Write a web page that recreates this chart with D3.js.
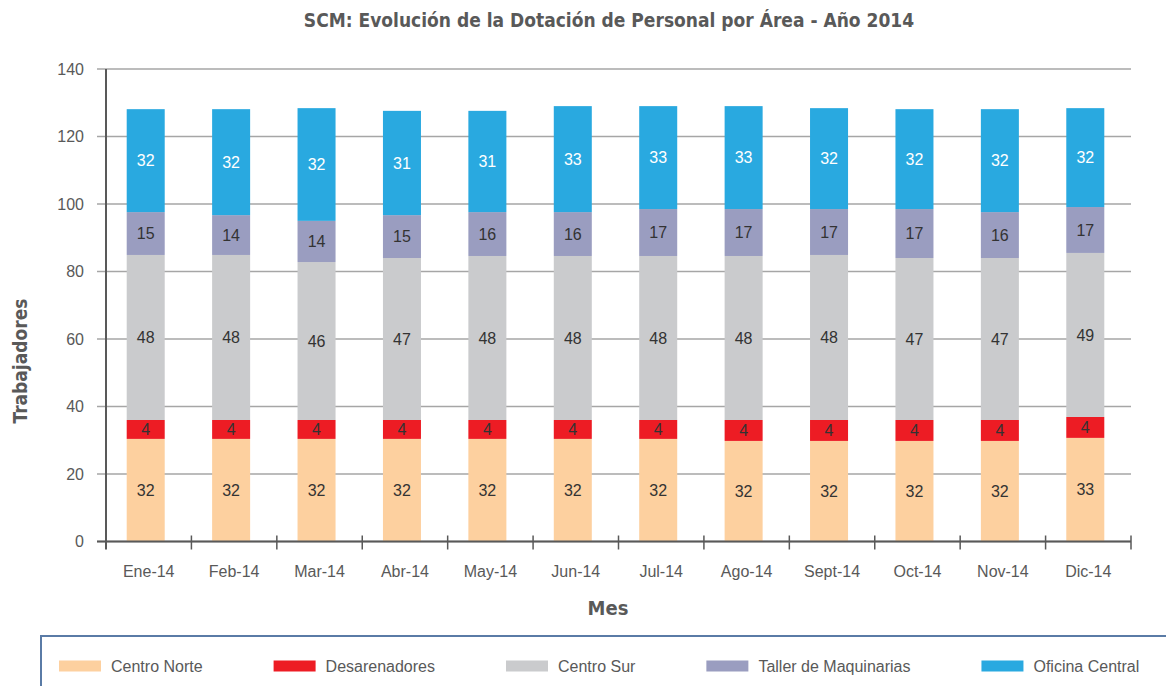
<!DOCTYPE html>
<html lang="es">
<head>
    <meta charset="UTF-8">
    <title>SCM: Dotación de Personal por Área - 2014</title>
    <script src="https://d3js.org/d3.v7.min.js"></script>
    <style>
        body { margin: 0; background: #fff; }
        svg { display: block; }
        .tick-label { font-family: "Liberation Sans", Arial, sans-serif; font-size: 16px; fill: #595959; }
        .bold-label { font-family: "Liberation Sans Narrow", "DejaVu Sans Condensed", sans-serif; font-weight: bold; fill: #595959; }
        .value-label { font-family: "Liberation Sans", Arial, sans-serif; font-size: 16px; }
    </style>
</head>
<body>
    <svg id="chart" width="1166" height="686"></svg>

    <script>
        // Meses (categorías)
        const meses = ["Ene-14", "Feb-14", "Mar-14", "Abr-14", "May-14", "Jun-14",
                       "Jul-14", "Ago-14", "Sept-14", "Oct-14", "Nov-14", "Dic-14"];

        // Nombres de las áreas (series, de abajo hacia arriba)
        const areas = ["Centro Norte", "Desarenadores", "Centro Sur", "Taller de Maquinarias", "Oficina Central"];

        // Alto de cada segmento tal como se ve en el gráfico
        const centroNorte   = [30.4, 30.4, 30.4, 30.4, 30.4, 30.4, 30.4, 29.8, 29.8, 29.8, 29.8, 30.7];
        const desarenadores = [5.6, 5.6, 5.6, 5.6, 5.6, 5.6, 5.6, 6.2, 6.2, 6.2, 6.2, 6.2];
        const centroSur     = [48.9, 48.9, 46.8, 48.0, 48.6, 48.6, 48.6, 48.6, 48.9, 48.0, 48.0, 48.6];
        const taller        = [12.7, 11.8, 12.2, 12.7, 13.0, 13.0, 13.9, 13.9, 13.6, 14.5, 13.6, 13.6];
        const oficina       = [30.5, 31.4, 33.4, 30.9, 30.0, 31.4, 30.5, 30.5, 29.9, 29.6, 30.5, 29.3];

        // Etiquetas de datos impresas en cada segmento
        const etqNorte   = [32, 32, 32, 32, 32, 32, 32, 32, 32, 32, 32, 33];
        const etqDesar   = [4, 4, 4, 4, 4, 4, 4, 4, 4, 4, 4, 4];
        const etqSur     = [48, 48, 46, 47, 48, 48, 48, 48, 48, 47, 47, 49];
        const etqTaller  = [15, 14, 14, 15, 16, 16, 17, 17, 17, 17, 16, 17];
        const etqOficina = [32, 32, 32, 31, 31, 33, 33, 33, 32, 32, 32, 32];

        // Ticks del eje Y
        const yTicks = [0, 20, 40, 60, 80, 100, 120, 140];

        const colores = ["#FDD09F", "#ED1C24", "#CACBCD", "#9A9DC0", "#29A9E0"];
        const colorTexto = ["#333333", "#333333", "#333333", "#333333", "#ffffff"];

        const series = [centroNorte, desarenadores, centroSur, taller, oficina];
        const etiquetas = [etqNorte, etqDesar, etqSur, etqTaller, etqOficina];

        // Tabla para d3.stack
        const tabla = meses.map((m, i) => {
            const fila = { mes: m };
            areas.forEach((a, k) => fila[a] = series[k][i]);
            return fila;
        });

        const stacked = d3.stack().keys(areas)(tabla);

        // Área de dibujo
        const plot = { left: 106, right: 1131, top: 69, bottom: 541.5 };

        const svg = d3.select("#chart");

        const x = d3.scaleBand()
            .domain(meses)
            .range([plot.left, plot.right]);

        const y = d3.scaleLinear()
            .domain([0, 140])
            .range([plot.bottom, plot.top]);

        const barWidth = x.bandwidth() * 0.445;
        const barX = m => x(m) + (x.bandwidth() - barWidth) / 2 - 3;

        // Líneas de cuadrícula
        svg.append("g")
            .selectAll("line")
            .data(yTicks)
            .enter()
            .append("line")
            .attr("x1", plot.left - 9)
            .attr("x2", plot.right)
            .attr("y1", d => y(d))
            .attr("y2", d => y(d))
            .attr("stroke", "#A6A6A6")
            .attr("stroke-width", 1.5);

        // Etiquetas del eje Y
        svg.append("g")
            .selectAll("text")
            .data(yTicks)
            .enter()
            .append("text")
            .attr("class", "tick-label")
            .attr("x", plot.left - 22)
            .attr("y", d => y(d))
            .attr("dy", "0.35em")
            .attr("text-anchor", "end")
            .text(d => d);

        // Barras apiladas
        const capas = svg.append("g")
            .selectAll("g")
            .data(stacked)
            .enter()
            .append("g")
            .attr("fill", (d, k) => colores[k]);

        capas.selectAll("rect")
            .data(d => d)
            .enter()
            .append("rect")
            .attr("x", d => barX(d.data.mes))
            .attr("y", d => y(d[1]))
            .attr("width", barWidth)
            .attr("height", d => y(d[0]) - y(d[1]));

        // Etiquetas de datos
        stacked.forEach((capa, k) => {
            svg.append("g")
                .selectAll("text")
                .data(capa)
                .enter()
                .append("text")
                .attr("class", "value-label")
                .attr("x", d => barX(d.data.mes) + barWidth / 2)
                .attr("y", d => y((d[0] + d[1]) / 2))
                .attr("dy", "0.35em")
                .attr("text-anchor", "middle")
                .attr("fill", colorTexto[k])
                .text((d, i) => etiquetas[k][i]);
        });

        // Ejes
        const ejes = svg.append("g")
            .attr("stroke", "#595959")
            .attr("stroke-width", 2);

        ejes.append("line")
            .attr("x1", plot.left).attr("x2", plot.left)
            .attr("y1", plot.top).attr("y2", plot.bottom + 8);

        ejes.append("line")
            .attr("x1", plot.left - 9).attr("x2", plot.right)
            .attr("y1", plot.bottom).attr("y2", plot.bottom);

        // Marcas en los límites de cada mes
        const limites = meses.slice(1).map(m => x(m)).concat([plot.right]);
        ejes.selectAll(".tick-x")
            .data(limites)
            .enter()
            .append("line")
            .attr("stroke-width", 1.5)
            .attr("x1", d => d).attr("x2", d => d)
            .attr("y1", plot.bottom - 6).attr("y2", plot.bottom + 8);

        // Etiquetas del eje X
        svg.append("g")
            .selectAll("text")
            .data(meses)
            .enter()
            .append("text")
            .attr("class", "tick-label")
            .attr("x", d => x(d) + x.bandwidth() / 2)
            .attr("y", plot.bottom + 35)
            .attr("text-anchor", "middle")
            .text(d => d);

        // Título
        svg.append("text")
            .attr("class", "bold-label")
            .attr("x", 609)
            .attr("y", 27)
            .attr("text-anchor", "middle")
            .attr("font-size", "19px")
            .text("SCM: Evolución de la Dotación de Personal por Área - Año 2014");

        // Título del eje X
        svg.append("text")
            .attr("class", "bold-label")
            .attr("x", 608)
            .attr("y", 615)
            .attr("text-anchor", "middle")
            .attr("font-size", "20px")
            .text("Mes");

        // Título del eje Y
        svg.append("text")
            .attr("class", "bold-label")
            .attr("transform", "translate(27, 361) rotate(-90)")
            .attr("text-anchor", "middle")
            .attr("font-size", "19px")
            .text("Trabajadores");

        // Leyenda
        svg.append("rect")
            .attr("x", 41)
            .attr("y", 636)
            .attr("width", 1200)
            .attr("height", 100)
            .attr("fill", "none")
            .attr("stroke", "#5A7BA6")
            .attr("stroke-width", 2);

        const leyenda = svg.append("g");
        let cursor = 59;
        areas.forEach((a, k) => {
            const item = leyenda.append("g").attr("transform", `translate(${cursor}, 666)`);
            item.append("rect")
                .attr("x", 0)
                .attr("y", -5.5)
                .attr("width", 42)
                .attr("height", 11)
                .attr("fill", colores[k]);
            const t = item.append("text")
                .attr("class", "tick-label")
                .attr("x", 52)
                .attr("dy", "0.35em")
                .text(a);
            cursor += 52 + t.node().getComputedTextLength() + 71;
        });
    </script>
</body>
</html>
